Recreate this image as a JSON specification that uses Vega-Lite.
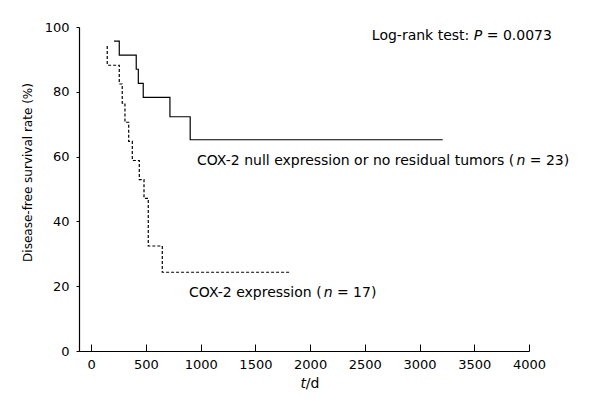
{
  "$schema": "https://vega.github.io/schema/vega-lite/v6.json",
  "autosize": "none",
  "width": 450,
  "height": 324,
  "padding": {"left": 79, "top": 27, "right": 66, "bottom": 65},
  "background": "white",
  "config": {
    "view": {"stroke": null},
    "font": "DejaVu Sans",
    "axis": {"grid": false, "domainColor": "black", "tickColor": "black", "labelColor": "black", "titleColor": "black", "labelFont": "DejaVu Sans", "titleFont": "DejaVu Sans", "domainWidth": 1.2, "tickWidth": 1}
  },
  "datasets": {
    "curves": [
      {"i": 1, "group": "null", "t": 208, "s": 95.65},
      {"i": 2, "group": "null", "t": 256, "s": 91.3},
      {"i": 3, "group": "null", "t": 411, "s": 86.96},
      {"i": 4, "group": "null", "t": 430, "s": 82.61},
      {"i": 5, "group": "null", "t": 475, "s": 78.26},
      {"i": 6, "group": "null", "t": 719, "s": 72.3},
      {"i": 7, "group": "null", "t": 904, "s": 65.2},
      {"i": 8, "group": "null", "t": 3212, "s": 65.2},
      {"i": 1, "group": "expr", "t": 146, "s": 94.1},
      {"i": 2, "group": "expr", "t": 146, "s": 88.2},
      {"i": 3, "group": "expr", "t": 256, "s": 82.4},
      {"i": 4, "group": "expr", "t": 283, "s": 76.5},
      {"i": 5, "group": "expr", "t": 308, "s": 70.6},
      {"i": 6, "group": "expr", "t": 342, "s": 64.7},
      {"i": 7, "group": "expr", "t": 375, "s": 58.8},
      {"i": 8, "group": "expr", "t": 439, "s": 52.9},
      {"i": 9, "group": "expr", "t": 482, "s": 47.1},
      {"i": 10, "group": "expr", "t": 521, "s": 32.4},
      {"i": 11, "group": "expr", "t": 649, "s": 24.3},
      {"i": 12, "group": "expr", "t": 1815, "s": 24.3}
    ],
    "labels": [
      {"t": 2564, "s": 97.1, "text": "Log-rank test:", "italic": false},
      {"t": 3496, "s": 97.1, "text": "P", "italic": true},
      {"t": 3614, "s": 97.1, "text": "= 0.0073", "italic": false},
      {"t": 966, "s": 58.6, "text": "COX-2 null expression or no residual tumors (", "italic": false},
      {"t": 3885, "s": 58.6, "text": "n", "italic": true},
      {"t": 4007, "s": 58.6, "text": "= 23)", "italic": false},
      {"t": 893, "s": 17.8, "text": "COX-2 expression (", "italic": false},
      {"t": 2124, "s": 17.8, "text": "n", "italic": true},
      {"t": 2245, "s": 17.8, "text": "= 17)", "italic": false},
      {"t": 1911, "s": -10.3, "text": "t", "italic": true},
      {"t": 1961, "s": -10.3, "text": "/d", "italic": false}
    ]
  },
  "layer": [
    {
      "data": {"name": "curves"},
      "mark": {"type": "line", "interpolate": "step-after", "color": "black", "strokeWidth": 1.2},
      "encoding": {
        "x": {
          "field": "t", "type": "quantitative",
          "scale": {"domain": [-112, 4000], "nice": false, "zero": false},
          "axis": {"values": [0, 500, 1000, 1500, 2000, 2500, 3000, 3500, 4000], "format": "d", "title": null, "tickSize": -7, "labelPadding": 14, "labelFontSize": 13, "labelFlush": false}
        },
        "y": {
          "field": "s", "type": "quantitative",
          "scale": {"domain": [0, 100], "nice": false},
          "axis": {"values": [0, 20, 40, 60, 80, 100], "format": "d", "title": "Disease-free survival rate (%)", "tickSize": 3, "labelPadding": 7, "labelFontSize": 13, "titleFontSize": 12, "titleFontWeight": "normal", "titleX": -52, "titleY": 145, "titleAngle": -90, "titleAlign": "center", "titleBaseline": "middle", "labelFlush": false}
        },
        "strokeDash": {"field": "group", "type": "nominal", "scale": {"domain": ["null", "expr"], "range": [[1, 0], [3, 2]]}, "legend": null},
        "detail": {"field": "group"},
        "order": {"field": "i", "type": "quantitative"}
      }
    },
    {
      "data": {"name": "labels"},
      "transform": [{"filter": "!datum.italic"}],
      "mark": {"type": "text", "align": "left", "baseline": "middle", "fontSize": 14, "font": "DejaVu Sans", "color": "black"},
      "encoding": {
        "x": {"field": "t", "type": "quantitative"},
        "y": {"field": "s", "type": "quantitative"},
        "text": {"field": "text"}
      }
    },
    {
      "data": {"name": "labels"},
      "transform": [{"filter": "datum.italic"}],
      "mark": {"type": "text", "align": "left", "baseline": "middle", "fontSize": 14, "font": "DejaVu Sans", "fontStyle": "italic", "color": "black"},
      "encoding": {
        "x": {"field": "t", "type": "quantitative"},
        "y": {"field": "s", "type": "quantitative"},
        "text": {"field": "text"}
      }
    }
  ]
}
